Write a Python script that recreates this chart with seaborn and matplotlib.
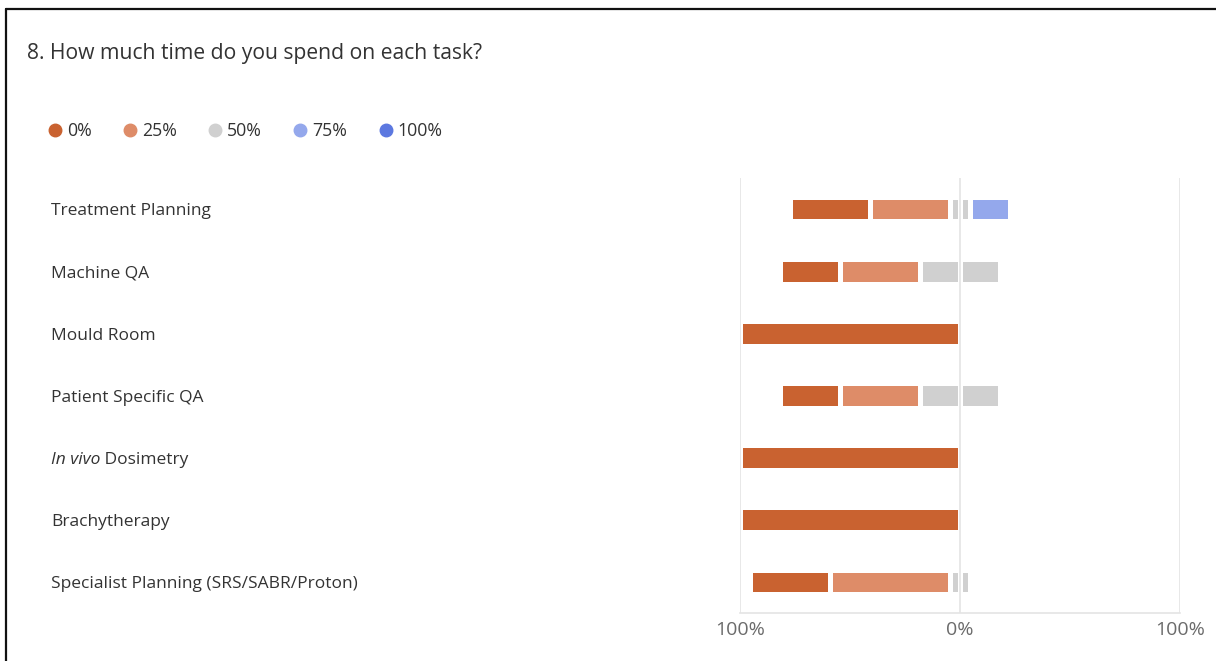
import matplotlib
matplotlib.use("Agg")
import matplotlib.pyplot as plt
from matplotlib.lines import Line2D
from matplotlib.transforms import blended_transform_factory
import numpy as np
import seaborn as sns

# Survey responses (number of respondents) per task and time share
tasks = [
    "Treatment Planning",
    "Machine QA",
    "Mould Room",
    "Patient Specific QA",
    "In vivo Dosimetry",
    "Brachytherapy",
    "Specialist Planning (SRS/SABR/Proton)",
]
levels = ["0%", "25%", "50%", "75%", "100%"]
count_0 = [4, 3, 11, 3, 11, 11, 4]
count_25 = [4, 4, 0, 4, 0, 0, 6]
count_50 = [1, 4, 0, 4, 0, 0, 1]
count_75 = [2, 0, 0, 0, 0, 0, 0]
count_100 = [0, 0, 0, 0, 0, 0, 0]
axis_labels = ["100%", "0%", "100%"]

colors = {
    "0%": "#C96230",
    "25%": "#DE8C68",
    "50%": "#D0D0D0",
    "75%": "#94A8EC",
    "100%": "#5C78E0",
}

sns.set_theme(style="white")
plt.rcParams["font.family"] = ["Open Sans", "DejaVu Sans"]

c0, c25, c50, c75, c100 = (np.array(c, dtype=float) for c in
                           (count_0, count_25, count_50, count_75, count_100))
n = c0 + c25 + c50 + c75 + c100
pct = lambda c: 100.0 * c / n

# Diverging layout: 0% and 25% to the left, 50% split across zero, 75%/100% right.
left_0 = -(pct(c0) + pct(c25) + pct(c50) / 2)
left_25 = -(pct(c25) + pct(c50) / 2)
left_50 = -(pct(c50) / 2)
right_100 = pct(c50) / 2 + pct(c75) + pct(c100)
right_75 = pct(c50) / 2 + pct(c75)
right_50 = pct(c50) / 2

W, H = 1216, 661
fig = plt.figure(figsize=(W / 100, H / 100), dpi=100)
ax = fig.add_axes([740 / W, 1 - 613 / H, 440 / W, 435 / H])

bar_kw = dict(orient="h", order=tasks, saturation=1, width=0.40,
              edgecolor="white", linewidth=3.6, errorbar=None, ax=ax)
for vals, key in [(left_0, "0%"), (left_25, "25%"), (left_50, "50%"),
                  (right_100, "100%"), (right_75, "75%"), (right_50, "50%")]:
    sns.barplot(x=vals, y=tasks, color=colors[key], **bar_kw)

ax.set_xlim(-100, 100)
ax.set_ylim(len(tasks) - 0.5, -0.5)
ax.set_xticks([-100, 0, 100])
ax.set_xticklabels(axis_labels, color="#6b6b6b", fontsize=14)
ax.tick_params(axis="x", length=0, pad=6)
ax.set_yticks([])
ax.set_xlabel("")
ax.set_ylabel("")
for s in ["top", "left", "right"]:
    ax.spines[s].set_visible(False)
ax.spines["bottom"].set_color("#e4e4e4")
ax.spines["bottom"].set_linewidth(1.2)
for xv in [-100, 0, 100]:
    ax.axvline(xv, color="#e4e4e4", lw=1.2, zorder=5)

# Task labels on the left side of the card
trans = blended_transform_factory(fig.transFigure, ax.transData)
for i, task in enumerate(tasks):
    y = i + 0.035
    if task.startswith("In vivo"):
        t = fig.text(51 / W, y, "In vivo", transform=trans, ha="left",
                     va="center", fontsize=12.5, color="#333333", style="italic")
        ax.annotate(task[len("In vivo"):], xy=(1, 0.5), xycoords=t,
                    ha="left", va="center", fontsize=12.5, color="#333333",
                    annotation_clip=False)
    else:
        fig.text(51 / W, y, task, transform=trans, ha="left", va="center",
                 fontsize=12.5, color="#333333")

fig.text(27 / W, 1 - 53 / H, "8. How much time do you spend on each task?",
         ha="left", va="center", fontsize=15.2, color="#333333")

handles = [Line2D([], [], marker="o", linestyle="", markersize=9,
                  markerfacecolor=colors[k], markeredgecolor=colors[k])
           for k in levels]
fig.legend(handles, levels, loc="center left", bbox_to_anchor=(46 / W, 1 - 131 / H),
           ncol=5, frameon=False, fontsize=12.8, handletextpad=0.18,
           columnspacing=1.65, handlelength=1.0, labelcolor="#333333",
           borderaxespad=0, borderpad=0)

# Card outline
fig.add_artist(Line2D([6 / W, 6 / W], [0, 1 - 9 / H], color="#111111", lw=1.6))
fig.add_artist(Line2D([6 / W, 1], [1 - 9 / H, 1 - 9 / H], color="#111111", lw=1.6))

fig.savefig("out.png", dpi=100, facecolor="white")
